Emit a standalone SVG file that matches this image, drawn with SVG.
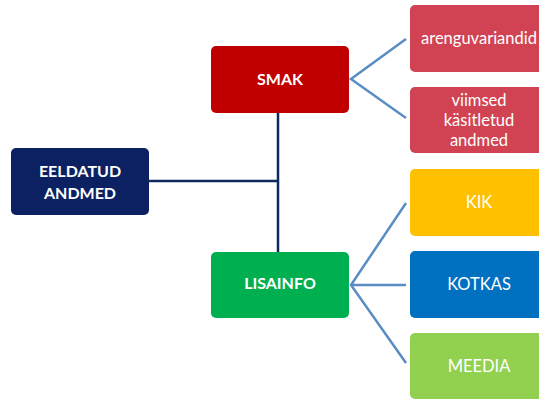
<svg xmlns="http://www.w3.org/2000/svg" width="539" height="399" viewBox="0 0 539 399">
<style>
.b{font-family:Lato,"Open Sans",sans-serif;font-weight:bold;font-size:16px;fill:#fff;text-anchor:middle}
.n{font-family:Lato,"Open Sans",sans-serif;font-size:16.5px;fill:#fff;text-anchor:middle}
.nav{stroke:#0F2A5F;stroke-width:2.5;fill:none}
.lb{stroke:#5A8DC4;stroke-width:2.5;fill:none}
</style>
<rect width="539" height="399" fill="#fff"/>
<g id="connectors">
<path class="nav" d="M149 181H278M278 113V252"/>
<path class="lb" d="M406 39L351 79L406 118"/>
<path class="lb" d="M406 203L351 285L406 363M351 285H406"/>
</g>
<g id="eeldatud"><rect x="11" y="148" width="138" height="67" rx="5" fill="#0C2161"/><text class="b" x="80" y="177">EELDATUD</text><text class="b" x="80" y="199">ANDMED</text></g>
<g id="smak"><rect x="211" y="46" width="138" height="67" rx="5" fill="#C00000"/><text class="b" x="280" y="85">SMAK</text></g>
<g id="lisainfo"><rect x="211" y="252" width="138" height="66" rx="5" fill="#00B050"/><text class="b" x="280" y="289">LISAINFO</text></g>
<g id="arenguvariandid"><rect x="410" y="5" width="138" height="67" rx="5" fill="#D14352"/><text class="n" x="479" y="44">arenguvariandid</text></g>
<g id="viimsed"><rect x="410" y="87" width="138" height="66" rx="5" fill="#D14352"/><text class="n" x="479" y="106">viimsed</text><text class="n" x="479" y="126">käsitletud</text><text class="n" x="479" y="146">andmed</text></g>
<g id="kik"><rect x="410" y="169" width="138" height="67" rx="5" fill="#FFC000"/><text class="n" x="479" y="208">KIK</text></g>
<g id="kotkas"><rect x="410" y="251" width="138" height="67" rx="5" fill="#0070C0"/><text class="n" x="479" y="290">KOTKAS</text></g>
<g id="meedia"><rect x="410" y="333" width="138" height="66" rx="5" fill="#92D050"/><text class="n" x="479" y="372">MEEDIA</text></g>
</svg>
